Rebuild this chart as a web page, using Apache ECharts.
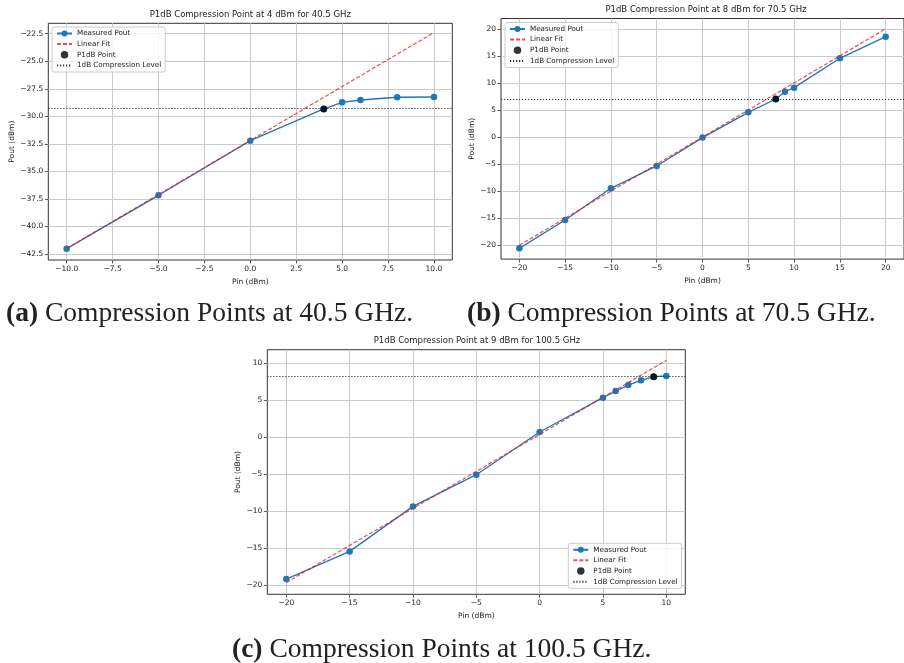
<!DOCTYPE html>
<html><head><meta charset="utf-8">
<script src="https://cdn.jsdelivr.net/npm/echarts@6/dist/echarts.min.js"></script>
<style>html,body{margin:0;padding:0;background:#fff}#c{width:904px;height:663px}</style>
</head><body><div id="c"></div>
<script>
// ---- data (a) 40.5 GHz ----
const pinA = [-10, -5, 0, 4, 5, 6, 8, 10];
const poutA = [-42.01, -37.17, -32.21, -29.33, -28.73, -28.52, -28.27, -28.25];
const fitXA = [-10, 10];
const fitYA = [-42.0, -22.4];
const p1dbA = [4, -29.33];
const levelA = -29.3;
const ticksAX = [-10, -7.5, -5, -2.5, 0, 2.5, 5, 7.5, 10];
const ticksAY = [-42.5, -40, -37.5, -35, -32.5, -30, -27.5, -25, -22.5];
// ---- data (b) 70.5 GHz ----
const pinB = [-20, -15, -10, -5, 0, 5, 8, 9, 10, 15, 20];
const poutB = [-20.56, -15.3, -9.44, -5.3, -0.05, 4.63, 7.1, 8.45, 9.2, 14.63, 18.63];
const fitXB = [-20, 20];
const fitYB = [-20.0, 20.1];
const p1dbB = [8, 7.1];
const levelB = 7.1;
const ticksBX = [-20, -15, -10, -5, 0, 5, 10, 15, 20];
const ticksBY = [-20, -15, -10, -5, 0, 5, 10, 15, 20];
// ---- data (c) 100.5 GHz ----
const pinC = [-20, -15, -10, -5, 0, 5, 6, 7, 8, 9, 10];
const poutC = [-19.15, -15.41, -9.34, -5.06, 0.69, 5.33, 6.22, 7.03, 7.67, 8.16, 8.25];
const fitXC = [-20, 10];
const fitYC = [-19.6, 10.36];
const p1dbC = [9, 8.16];
const levelC = 8.2;
const ticksCX = [-20, -15, -10, -5, 0, 5, 10];
const ticksCY = [-20, -15, -10, -5, 0, 5, 10];

const titles = [
  'P1dB Compression Point at 4 dBm for 40.5 GHz',
  'P1dB Compression Point at 8 dBm for 70.5 GHz',
  'P1dB Compression Point at 9 dBm for 100.5 GHz'
];
const captions = [
  ['(a)', ' Compression Points at 40.5 GHz.'],
  ['(b)', ' Compression Points at 70.5 GHz.'],
  ['(c)', ' Compression Points at 100.5 GHz.']
];
const names = ['Measured Pout', 'Linear Fit', 'P1dB Point', '1dB Compression Level'];

const FONT = 'DejaVu Sans';
function fmt(dec) {
  return v => (v < 0 ? '\u2212' : '') + Math.abs(v).toFixed(dec);
}
const grids = [
  {left: 48.3, top: 23.3, width: 404, height: 236.7},
  {left: 501, top: 18.5, width: 409.7, height: 240.6},
  {left: 267.3, top: 349.7, width: 418, height: 244.6}
];
const lims = [
  {x: [-11, 11], y: [-43.04, -21.56]},
  {x: [-22, 22], y: [-22.55, 22.0]},
  {x: [-21.5, 11.5], y: [-21.2, 11.8]}
];
const ticks = [[ticksAX, ticksAY, 1, 1], [ticksBX, ticksBY, 0, 0], [ticksCX, ticksCY, 0, 0]];

function axis(i, dim) {
  const t = dim === 'x' ? ticks[i][0] : ticks[i][1];
  const dec = dim === 'x' ? ticks[i][2] : ticks[i][3];
  const l = lims[i][dim];
  return {
    type: 'value', gridIndex: i, min: l[0], max: l[1],
    position: dim === 'x' ? 'bottom' : 'left',
    name: dim === 'x' ? 'Pin (dBm)' : 'Pout (dBm)',
    nameLocation: 'middle',
    nameGap: dim === 'x' ? 18 : (i === 0 ? 30 : (i === 1 ? 24 : 25)),
    nameTextStyle: {fontFamily: FONT, fontSize: 7.5, color: '#222'},
    axisLine: {show: false, onZero: false},
    axisTick: {show: true, length: 3.5, inside: false, customValues: t, lineStyle: {color: '#333', width: 0.8}},
    axisLabel: {customValues: t, formatter: fmt(dec), fontFamily: FONT, fontSize: 7.5, color: '#222', margin: 5},
    splitLine: {show: false}
  };
}

const series = [];
const sets = [
  [pinA, poutA, fitXA, fitYA, p1dbA, levelA],
  [pinB, poutB, fitXB, fitYB, p1dbB, levelB],
  [pinC, poutC, fitXC, fitYC, p1dbC, levelC]
];
sets.forEach((s, i) => {
  const [px, py, fx, fy, p1, lv] = s;
  // grid lines at tick positions
  series.push({
    name: 'grid' + i, type: 'line', xAxisIndex: i, yAxisIndex: i, data: [], z: 0,
    silent: true, animation: false,
    markLine: {
      z: 0, silent: true, symbol: 'none', animation: false, label: {show: false},
      lineStyle: {color: '#cbcbcb', width: 1, type: 'solid'},
      data: ticks[i][0].map(v => ({xAxis: v})).concat(ticks[i][1].map(v => ({yAxis: v})))
    }
  });
  series.push({
    name: names[0], type: 'line', xAxisIndex: i, yAxisIndex: i, z: 2,
    data: px.map((x, k) => [x, py[k]]),
    symbol: 'circle', symbolSize: 6.5, showSymbol: true,
    lineStyle: {color: '#1f77b4', width: 1.3},
    itemStyle: {color: '#1f77b4'}, animation: false
  });
  series.push({
    name: names[1], type: 'line', xAxisIndex: i, yAxisIndex: i, z: 3,
    data: fx.map((x, k) => [x, fy[k]]),
    symbol: 'none',
    lineStyle: {color: 'rgba(245,30,30,0.8)', width: 1.2, type: [4, 2]},
    itemStyle: {color: 'rgba(245,30,30,0.8)'}, animation: false
  });
  series.push({
    name: names[2], type: 'scatter', xAxisIndex: i, yAxisIndex: i,
    data: [p1], symbol: 'circle', symbolSize: 7,
    itemStyle: {color: '#000'}, animation: false, z: 4
  });
  series.push({
    name: names[3], type: 'line', xAxisIndex: i, yAxisIndex: i, z: 4,
    data: [], symbol: 'none',
    lineStyle: {color: '#333', width: 1.1, type: [1.2, 1.8]},
    itemStyle: {color: '#333'}, animation: false,
    markLine: {
      z: 4, silent: true, symbol: 'none', animation: false,
      label: {show: false},
      lineStyle: {color: '#333', width: 1.1, type: [1.2, 1.8]},
      data: [{yAxis: lv}]
    }
  });
});

const legendPos = [
  {left: 52, top: 27},
  {left: 505, top: 22.5},
  {left: 568.3, top: 543.3}
];
const legendData = [
  {name: names[0]},
  {name: names[1], itemStyle: {opacity: 0}},
  {name: names[2]},
  {name: names[3], itemStyle: {opacity: 0}}
];
const legends = legendPos.map(p => ({
  orient: 'vertical', left: p.left, top: p.top, data: legendData,
  itemGap: 3.5, itemWidth: 15, itemHeight: 7.5,
  padding: [3, 4, 3, 4], borderColor: '#ccc', borderWidth: 1, borderRadius: 2,
  backgroundColor: 'rgba(255,255,255,0.8)',
  textStyle: {fontFamily: FONT, fontSize: 7.2, color: '#222'},
  selectedMode: false, z: 10
}));

const titleComps = [
  {text: titles[0], left: 250.3, top: 10},
  {text: titles[1], left: 706, top: 5.5},
  {text: titles[2], left: 477, top: 336}
].map(t => ({
  text: t.text, left: t.left, top: t.top, textAlign: 'center', padding: 0,
  textStyle: {fontFamily: FONT, fontSize: 8.5, fontWeight: 'normal', color: '#222'}
}));
const capPos = [{left: 6, top: 300}, {left: 467, top: 300}, {left: 232, top: 635.5}];
const capComps = captions.map((c, i) => ({
  text: '{b|' + c[0] + '}' + c[1], left: capPos[i].left, top: capPos[i].top, padding: 0,
  textStyle: {
    fontFamily: 'Liberation Serif', fontSize: 27.5, fontWeight: 'normal', color: '#222',
    rich: {b: {fontFamily: 'Liberation Serif', fontSize: 27.5, fontWeight: 'bold', color: '#222'}}
  }
}));

const chart = echarts.init(document.getElementById('c'), null, {renderer: 'canvas'});
chart.setOption({
  backgroundColor: '#fff',
  animation: false,
  title: titleComps.concat(capComps),
  legend: legends,
  grid: grids.map(g => Object.assign({show: true, borderColor: '#333', borderWidth: 1, containLabel: false}, g)),
  xAxis: [0, 1, 2].map(i => axis(i, 'x')),
  yAxis: [0, 1, 2].map(i => axis(i, 'y')),
  series: series
});
</script></body></html>
